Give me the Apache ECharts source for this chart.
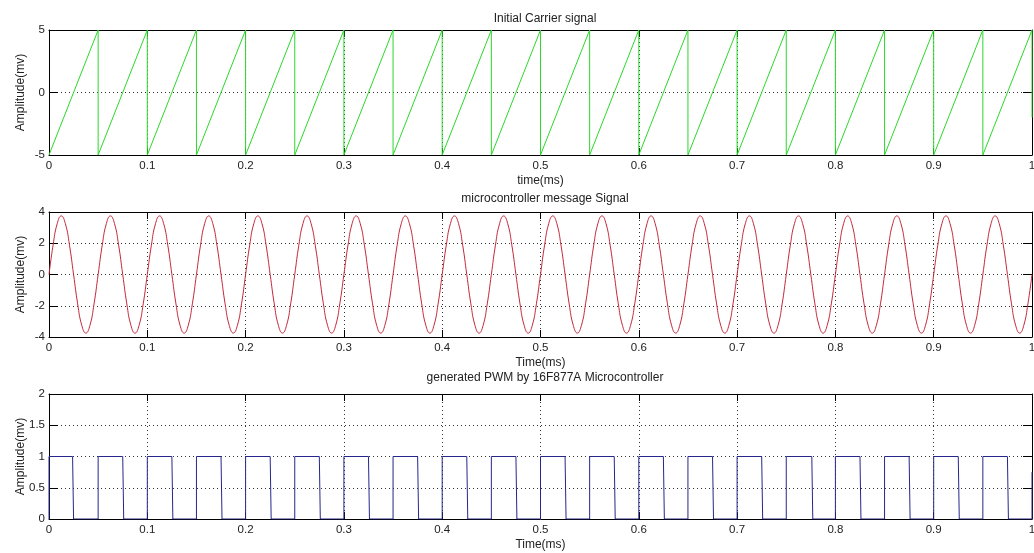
<!DOCTYPE html>
<html>
<head>
<meta charset="utf-8">
<title>PWM signals</title>
<script src="https://cdn.jsdelivr.net/npm/echarts@6/dist/echarts.min.js"></script>
<style>
  html, body { margin: 0; padding: 0; background: #fff; }
  #chart { width: 1034px; height: 553px; }
</style>
</head>
<body>
<div id="chart"></div>
<script>
// carrier: sawtooth corner points (time, value)
var sawTimes = [0, 0.05, 0.05, 0.1, 0.1, 0.15, 0.15, 0.2, 0.2, 0.25, 0.25, 0.3, 0.3, 0.35, 0.35, 0.4, 0.4, 0.45, 0.45, 0.5,
  0.5, 0.55, 0.55, 0.6, 0.6, 0.65, 0.65, 0.7, 0.7, 0.75, 0.75, 0.8, 0.8, 0.85, 0.85, 0.9, 0.9, 0.95, 0.95, 1.0, 1.0];
var sawValues = [-5, 5, -5, 5, -5, 5, -5, 5, -5, 5, -5, 5, -5, 5, -5, 5, -5, 5, -5, 5,
  -5, 5, -5, 5, -5, 5, -5, 5, -5, 5, -5, 5, -5, 5, -5, 5, -5, 5, -5, 5, -2];

// message signal, sampled every 1/240 ms
var sineStep = 1 / 240;
var sineValues = [
  0, 1.88, 3.25, 3.75, 3.25, 1.88, 0, -1.88, -3.25, -3.75, -3.25, -1.88,
  0, 1.88, 3.25, 3.75, 3.25, 1.88, 0, -1.88, -3.25, -3.75, -3.25, -1.88,
  0, 1.88, 3.25, 3.75, 3.25, 1.88, 0, -1.88, -3.25, -3.75, -3.25, -1.88,
  0, 1.88, 3.25, 3.75, 3.25, 1.88, 0, -1.88, -3.25, -3.75, -3.25, -1.88,
  0, 1.88, 3.25, 3.75, 3.25, 1.88, 0, -1.88, -3.25, -3.75, -3.25, -1.88,
  0, 1.88, 3.25, 3.75, 3.25, 1.88, 0, -1.88, -3.25, -3.75, -3.25, -1.88,
  0, 1.88, 3.25, 3.75, 3.25, 1.88, 0, -1.88, -3.25, -3.75, -3.25, -1.88,
  0, 1.88, 3.25, 3.75, 3.25, 1.88, 0, -1.88, -3.25, -3.75, -3.25, -1.88,
  0, 1.88, 3.25, 3.75, 3.25, 1.88, 0, -1.88, -3.25, -3.75, -3.25, -1.88,
  0, 1.88, 3.25, 3.75, 3.25, 1.88, 0, -1.88, -3.25, -3.75, -3.25, -1.88,
  0, 1.88, 3.25, 3.75, 3.25, 1.88, 0, -1.88, -3.25, -3.75, -3.25, -1.88,
  0, 1.88, 3.25, 3.75, 3.25, 1.88, 0, -1.88, -3.25, -3.75, -3.25, -1.88,
  0, 1.88, 3.25, 3.75, 3.25, 1.88, 0, -1.88, -3.25, -3.75, -3.25, -1.88,
  0, 1.88, 3.25, 3.75, 3.25, 1.88, 0, -1.88, -3.25, -3.75, -3.25, -1.88,
  0, 1.88, 3.25, 3.75, 3.25, 1.88, 0, -1.88, -3.25, -3.75, -3.25, -1.88,
  0, 1.88, 3.25, 3.75, 3.25, 1.88, 0, -1.88, -3.25, -3.75, -3.25, -1.88,
  0, 1.88, 3.25, 3.75, 3.25, 1.88, 0, -1.88, -3.25, -3.75, -3.25, -1.88,
  0, 1.88, 3.25, 3.75, 3.25, 1.88, 0, -1.88, -3.25, -3.75, -3.25, -1.88,
  0, 1.88, 3.25, 3.75, 3.25, 1.88, 0, -1.88, -3.25, -3.75, -3.25, -1.88,
  0, 1.88, 3.25, 3.75, 3.25, 1.88, 0, -1.88, -3.25, -3.75, -3.25, -1.88,
  0
];

// PWM: rising and falling edge times
var pwmRise = [0, 0.05, 0.1, 0.15, 0.2, 0.25, 0.3, 0.35, 0.4, 0.45, 0.5, 0.55, 0.6, 0.65, 0.7, 0.75, 0.8, 0.85, 0.9, 0.95];
var pwmFall = [0.025, 0.076, 0.126, 0.176, 0.226, 0.276, 0.326, 0.376, 0.426, 0.476,
  0.526, 0.576, 0.626, 0.676, 0.726, 0.777, 0.826, 0.876, 0.926, 0.976];

var sawData = sawTimes.map(function (t, i) { return [t, sawValues[i]]; });
var sineData = sineValues.map(function (v, i) { return [i * sineStep, v]; });
var pwmData = [];
pwmRise.forEach(function (r, i) {
  pwmData.push([r, 0], [r, 1], [pwmFall[i] - 0.001, 1], [pwmFall[i], 0]);
});
pwmData.push([1.0, 0], [1.0, 0.75]);

var font = "'Liberation Sans', Arial, sans-serif";
var txt = "#222";
// matlab style grid: sparse dots
var gridLine = { color: "#333", type: [1, 3] };

var grids = [
  { left: 49, right: 2, top: 30, height: 125, outerBoundsMode: "none" },
  { left: 49, right: 2, top: 212, height: 125, outerBoundsMode: "none" },
  { left: 49, right: 2, top: 394, height: 125, outerBoundsMode: "none" }
];

function xMain(g, name) {
  return {
    type: "value", gridIndex: g, min: 0, max: 1, interval: 0.1, position: "bottom",
    name: name, nameLocation: "middle", nameGap: 20, nameMoveOverlap: false,
    nameTextStyle: { color: txt, fontFamily: font, fontSize: 12 },
    axisLine: { onZero: false, lineStyle: { color: "#000" } },
    axisTick: { inside: true, length: 7, lineStyle: { color: "#000" } },
    axisLabel: { color: txt, fontFamily: font, fontSize: 11.5, margin: 5 },
    splitLine: { show: true, lineStyle: gridLine }
  };
}
function xTop(g) {
  return {
    type: "value", gridIndex: g, min: 0, max: 1, interval: 0.1, position: "top",
    axisLine: { onZero: false, lineStyle: { color: "#000" } },
    axisTick: { inside: true, length: 7, lineStyle: { color: "#000" } },
    axisLabel: { show: false }, splitLine: { show: false }
  };
}
function yMain(g, min, max, step) {
  return {
    type: "value", gridIndex: g, min: min, max: max, interval: step, position: "left",
    name: "Amplitude(mv)", nameLocation: "middle", nameGap: 22, nameMoveOverlap: false,
    nameTextStyle: { color: txt, fontFamily: font, fontSize: 12 },
    axisLine: { show: true, onZero: false, lineStyle: { color: "#000" } },
    axisTick: { show: true, inside: true, length: 9, lineStyle: { color: "#000" } },
    axisLabel: { color: txt, fontFamily: font, fontSize: 11.5, margin: 4 },
    splitLine: { show: true, lineStyle: gridLine }
  };
}
function yRight(g, min, max, step) {
  return {
    type: "value", gridIndex: g, min: min, max: max, interval: step, position: "right",
    axisLine: { show: true, onZero: false, lineStyle: { color: "#000" } },
    axisTick: { show: true, inside: true, length: 9, lineStyle: { color: "#000" } },
    axisLabel: { show: false }, splitLine: { show: false }
  };
}

var titleStyle = { color: txt, fontFamily: font, fontSize: 12, fontWeight: "normal" };

var option = {
  animation: false,
  backgroundColor: "#fff",
  title: [
    { text: "Initial Carrier signal", left: 540, textAlign: "center", top: 8, textStyle: titleStyle },
    { text: "microcontroller message Signal", left: 540, textAlign: "center", top: 188, textStyle: titleStyle },
    { text: "generated PWM by 16F877A Microcontroller", left: 540, textAlign: "center", top: 367, textStyle: titleStyle }
  ],
  grid: grids,
  xAxis: [
    xMain(0, "time(ms)"), xTop(0),
    xMain(1, "Time(ms)"), xTop(1),
    xMain(2, "Time(ms)"), xTop(2)
  ],
  yAxis: [
    yMain(0, -5, 5, 5), yRight(0, -5, 5, 5),
    yMain(1, -4, 4, 2), yRight(1, -4, 4, 2),
    yMain(2, 0, 2, 0.5), yRight(2, 0, 2, 0.5)
  ],
  series: [
    {
      type: "line", xAxisIndex: 0, yAxisIndex: 0, data: sawData, showSymbol: false,
      lineStyle: { color: "#2bd82b", width: 1 }
    },
    {
      type: "line", xAxisIndex: 2, yAxisIndex: 2, data: sineData, showSymbol: false, smooth: true,
      lineStyle: { color: "#c4283a", width: 1 }
    },
    {
      type: "line", xAxisIndex: 4, yAxisIndex: 4, data: pwmData, showSymbol: false,
      lineStyle: { color: "#26268c", width: 1 }
    }
  ]
};

var myChart = echarts.init(document.getElementById("chart"));
myChart.setOption(option);
</script>
</body>
</html>
